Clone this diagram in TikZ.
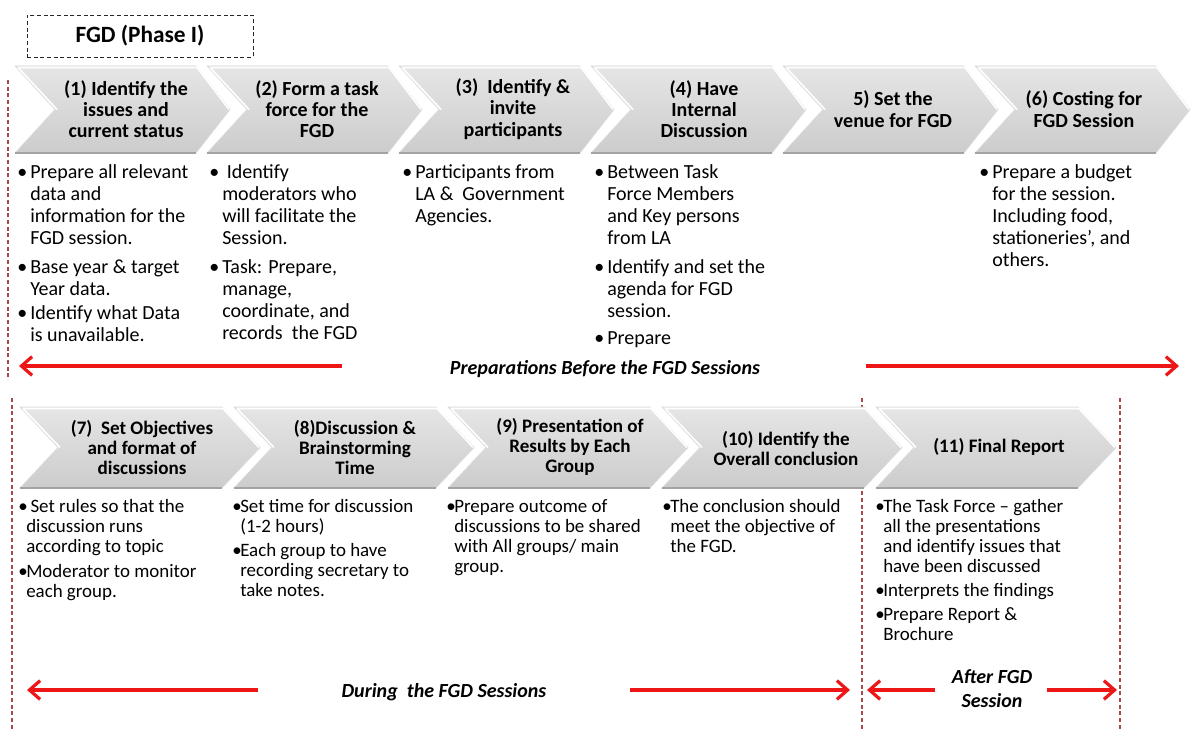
\documentclass[tikz,border=0pt]{standalone}
\usepackage{fontspec}
\setmainfont{Carlito}
\usetikzlibrary{arrows.meta}

\definecolor{arrred}{RGB}{236,22,22}
\definecolor{guidered}{RGB}{168,72,72}

% strut that fixes the top of a text block 13pt above its first baseline
\newcommand\bstrut{\rule{0pt}{13pt}}

% bullet item: style, name, bullet x, text x, first baseline y, lines
\newcommand\bul[6]{%
  \node[#1] (#2-dot) at (#3,#5) {\bstrut•};
  \node[#1] (#2) at (#4,#5) {\bstrut#6};
}

% chevron step: name, left x, top y, straight width, height, notch depth, tip depth
\newcommand\chev[7]{%
  \path[chevfill] (#2,#3) -- ++(#4,0) -- ++(#7,#5/2) -- ++(-#7,#5/2)
        -- ++(-#4,0) -- ++(#6,-#5/2) -- cycle;
  \draw[chevedge] (#2+3,#3+1.5) -- ++(#4-2,0) -- ++(#7-2,#5/2-1.5);
  \draw[chevedge] (#2+3,#3+1.5) -- ++(#6-1,#5/2-1.5);
  \draw[chevbase] (#2,#3+#5) -- ++(#4,0);
  \coordinate (#1) at (#2+#4/2,#3+#5/2);
}

\tikzset{
  toptxt/.style={anchor=north west, yshift=13pt, inner sep=0pt, align=left,
                 font=\fontsize{15}{16.5}\selectfont},
  bottxt/.style={anchor=north west, yshift=13pt, inner sep=0pt, align=left,
                 font=\fontsize{14.2}{15}\selectfont},
  tophead/.style={inner sep=0pt, align=center, font=\bfseries\fontsize{15}{16}\selectfont},
  bothead/.style={inner sep=0pt, align=center, font=\bfseries\fontsize{14.3}{15}\selectfont},
  chevfill/.style={top color=gray!20, middle color=white, bottom color=gray!40,
                   draw=gray!28, line width=0.5pt},
  chevedge/.style={draw=white, line width=1.2pt},
  chevbase/.style={draw=gray!72, line width=1.8pt},
  guideline/.style={draw=guidered, dash pattern=on 3pt off 2pt, line width=0.8pt},
  phasearrow/.style={draw=arrred, line width=2.6pt,
                     -{Straight Barb[length=8pt, width=14pt, line width=2.4pt]}},
  period/.style={inner sep=0pt, align=center,
                 font=\bfseries\itshape\fontsize{15}{18}\selectfont},
}

\begin{document}
\begin{tikzpicture}[x=0.75pt,y=-0.75pt]
\useasboundingbox (0,0) rectangle (1192,731);
\clip (0,0) rectangle (1192,731);
\fill[white] (0,0) rectangle (1192,731);

% phase title
\node (phase1) [draw=black!85, dash pattern=on 3pt off 2pt, line width=0.7pt,
  minimum width=169.5pt, minimum height=31.5pt, inner sep=0pt,
  font=\bfseries\fontsize{17.5}{20}\selectfont] at (140,36) {FGD (Phase I)};

% period guide lines
\coordinate (g0a) at (8,80);    \coordinate (g0b) at (8,380);
\coordinate (g1a) at (12,398);  \coordinate (g1b) at (12,731);
\coordinate (g2a) at (862,398); \coordinate (g2b) at (862,731);
\coordinate (g3a) at (1120,398);\coordinate (g3b) at (1120,731);
\draw[guideline] (g0a) -- (g0b);
\draw[guideline] (g1a) -- (g1b);
\draw[guideline] (g2a) -- (g2b);
\draw[guideline] (g3a) -- (g3b);

% upper row of steps
\chev{s1}{15}{66}{181}{87}{40}{34}
\chev{s2}{207}{66}{181}{87}{40}{34}
\chev{s3}{399}{66}{181}{87}{40}{34}
\chev{s4}{591}{66}{181}{87}{40}{34}
\chev{s5}{783}{66}{181}{87}{40}{34}
\chev{s6}{975}{66}{181}{87}{40}{34}

\node[tophead] (h1) at (126,109) {(1) Identify the\\issues and\\current status};
\node[tophead] (h2) at (317,109) {(2) Form a task\\force for the\\FGD};
\node[tophead] (h3) at (513,109) {(3)\ \ Identify \&\\invite\\participants};
\node[tophead] (h4) at (704,109) {(4) Have\\Internal\\Discussion};
\node[tophead] (h5) at (893,109) {5) Set the\\venue for FGD};
\node[tophead] (h6) at (1084,109) {(6) Costing for\\FGD Session};

% lower row of steps
\chev{s7}{20}{407}{202}{81}{38}{38}
\chev{s8}{234}{407}{202}{81}{38}{38}
\chev{s9}{448}{407}{202}{81}{38}{38}
\chev{s10}{662}{407}{202}{81}{38}{38}
\chev{s11}{876}{407}{202}{81}{38}{38}

\node[bothead] (h7) at (142,447) {(7)\ \ Set Objectives\\and format of\\discussions};
\node[bothead] (h8) at (355,447) {(8)Discussion \&\\Brainstorming\\Time};
\node[bothead] (h9) at (570,447) {(9) Presentation of\\Results by Each\\Group};
\node[bothead] (h10) at (786,448) {(10) Identify the\\Overall conclusion};
\node[bothead] (h11) at (999,447) {(11) Final Report};

% upper row details
\bul{toptxt}{c1a}{17}{30}{178}{Prepare all relevant\\data and\\information for the\\FGD session.}
\bul{toptxt}{c1b}{17}{30}{273}{Base year \& target\\Year data.}
\bul{toptxt}{c1c}{17}{30}{319}{Identify what Data\\is unavailable.}
\bul{toptxt}{c2a}{209}{222}{178}{\ Identify\\moderators who\\will facilitate the\\Session.}
\bul{toptxt}{c2b}{209}{222}{273}{Task: Prepare,\\manage,\\coordinate, and\\records\ \ the FGD}
\bul{toptxt}{c3a}{402}{415}{178}{Participants from\\LA \&\ \ Government\\Agencies.}
\bul{toptxt}{c4a}{594}{607}{178}{Between Task\\Force Members\\and Key persons\\from LA}
\bul{toptxt}{c4b}{594}{607}{273}{Identify and set the\\agenda for FGD\\session.}
\bul{toptxt}{c4c}{594}{607}{344}{Prepare}
\bul{toptxt}{c6a}{979}{992}{178}{Prepare a budget\\for the session.\\Including food,\\stationeries', and\\others.}

% lower row details
\bul{bottxt}{c7a}{18}{26}{512}{\ Set rules so that the\\discussion runs\\according to topic}
\bul{bottxt}{c7b}{18}{26}{577}{Moderator to monitor\\each group.}
\bul{bottxt}{c8a}{232}{240}{512}{Set time for discussion\\(1-2 hours)}
\bul{bottxt}{c8b}{232}{240}{556}{Each group to have\\recording secretary to\\take notes.}
\bul{bottxt}{c9a}{446}{454}{512}{Prepare outcome of\\discussions to be shared\\with All groups/ main\\group.}
\bul{bottxt}{c10a}{662}{670}{512}{The conclusion should\\meet the objective of\\the FGD.}
\bul{bottxt}{c11a}{875}{883}{512}{The Task Force – gather\\all the presentations\\and identify issues that\\have been discussed}
\bul{bottxt}{c11b}{875}{883}{596}{Interprets the findings}
\bul{bottxt}{c11c}{875}{883}{620}{Prepare Report \&\\Brochure}

% period labels and arrows
\node[period] (prep) at (605,369) {Preparations Before the FGD Sessions};
\node[period] (during) at (444,692) {During\ \ the FGD Sessions};
\node[period] (after) at (992,689) {After FGD\\Session};

\coordinate (pa1) at (342,366);  \coordinate (pa1e) at (19,366);
\coordinate (pa2) at (866,366);  \coordinate (pa2e) at (1179,366);
\coordinate (da1) at (258,690);  \coordinate (da1e) at (27,690);
\coordinate (da2) at (630,690);  \coordinate (da2e) at (850,690);
\coordinate (aa1) at (935,690);  \coordinate (aa1e) at (867,690);
\coordinate (aa2) at (1047,690); \coordinate (aa2e) at (1117,690);
\draw[phasearrow] (pa1) -- (pa1e);
\draw[phasearrow] (pa2) -- (pa2e);
\draw[phasearrow] (da1) -- (da1e);
\draw[phasearrow] (da2) -- (da2e);
\draw[phasearrow] (aa1) -- (aa1e);
\draw[phasearrow] (aa2) -- (aa2e);
\end{tikzpicture}
\end{document}
